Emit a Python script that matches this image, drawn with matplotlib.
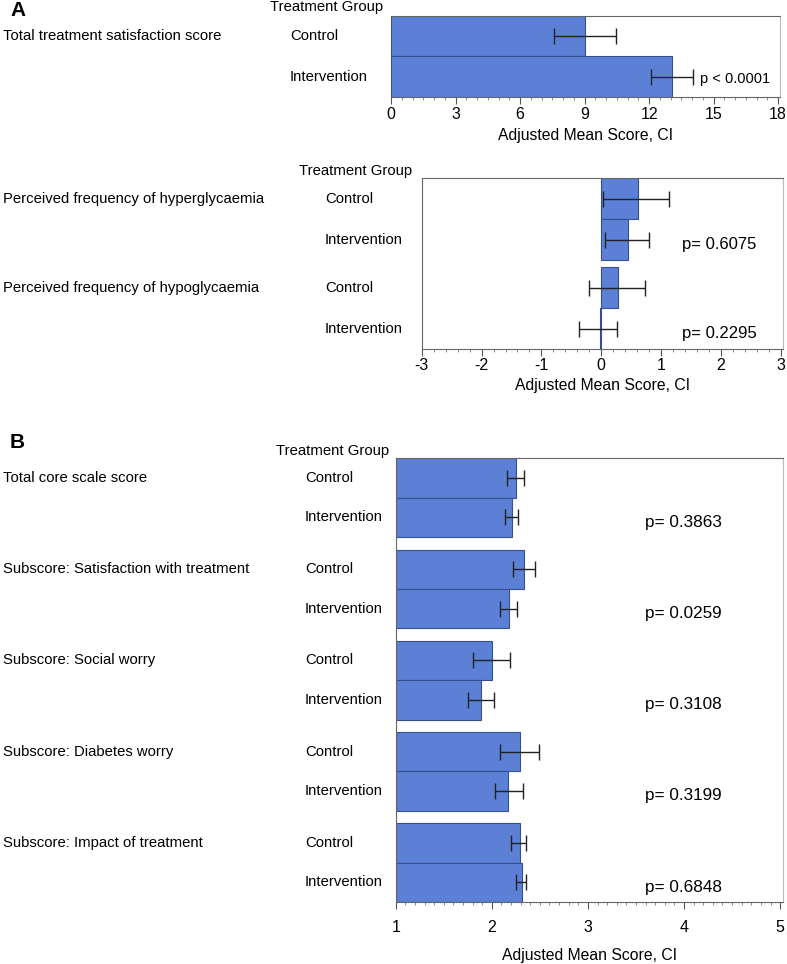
import matplotlib.pyplot as plt
import numpy as np
from matplotlib.ticker import MultipleLocator

plt.rcParams['font.family'] = ['Liberation Sans', 'DejaVu Sans']
plt.rcParams['axes.unicode_minus'] = False

groups = ['Control', 'Intervention']

# Panel A, top
tot_labels = ['Total treatment satisfaction score']
tot_mean = [9.0, 13.06]
tot_lo = [7.58, 12.1]
tot_hi = [10.44, 14.03]
tot_p = ['p < 0.0001']

# Panel A, middle
freq_labels = ['Perceived frequency of hyperglycaemia', 'Perceived frequency of hypoglycaemia']
freq_mean = [0.61, 0.44, 0.28, -0.03]
freq_lo = [0.03, 0.06, -0.20, -0.37]
freq_hi = [1.13, 0.80, 0.73, 0.27]
freq_p = ['p= 0.6075', 'p= 0.2295']

# Panel B
core_labels = ['Total core scale score', 'Subscore: Satisfaction with treatment',
               'Subscore: Social worry', 'Subscore: Diabetes worry',
               'Subscore: Impact of treatment']
core_mean = [2.25, 2.21, 2.335, 2.18, 2.00, 1.885, 2.29, 2.17, 2.29, 2.31]
core_lo = [2.16, 2.14, 2.22, 2.09, 1.80, 1.75, 2.085, 2.03, 2.20, 2.25]
core_hi = [2.34, 2.27, 2.45, 2.26, 2.19, 2.02, 2.49, 2.32, 2.36, 2.36]
core_p = ['p= 0.3863', 'p= 0.0259', 'p= 0.3108', 'p= 0.3199', 'p= 0.6848']

W, H = 787, 964
fig = plt.figure(figsize=(W / 100, H / 100), dpi=100)
bar_col = '#5b80d6'
edge_col = '#34508f'


def px_axes(left, right, top, bottom):
    return fig.add_axes([left / W, 1 - bottom / H, (right - left) / W, (bottom - top) / H])


def draw_panel(ax, mean, lo, hi, gap, base, xlim, major, minor, p_texts, p_x, p_fs, p_dy,
               tpad, lpad):
    n_grp = len(mean) // 2
    pos = []
    for g in range(n_grp):
        pos += [g * (2 + gap), g * (2 + gap) + 1]
    pos = np.array(pos, dtype=float)
    mean = np.array(mean)
    ax.barh(pos, mean - base, left=base, height=1.0, color=bar_col,
            edgecolor=edge_col, linewidth=0.8, zorder=2)
    err = [mean - np.array(lo), np.array(hi) - mean]
    ax.errorbar(mean, pos, xerr=err, fmt='none', ecolor='#222222',
                elinewidth=1.0, capsize=6, capthick=1.0, zorder=3)
    ax.set_ylim(pos[-1] + 0.5, -0.5)
    ax.set_xlim(*xlim)
    ax.set_yticks([])
    ax.xaxis.set_major_locator(MultipleLocator(major))
    ax.xaxis.set_minor_locator(MultipleLocator(minor))
    ax.tick_params(axis='x', which='major', length=5, width=0.8, color='#555555',
                   labelsize=11.5, pad=tpad)
    ax.tick_params(axis='x', which='minor', length=2.5, width=0.6, color='#777777')
    for s in ['top', 'left']:
        ax.spines[s].set_color('#666666')
    ax.spines['right'].set_color('#bbbbbb')
    ax.spines['bottom'].set_color('#666666')
    ax.set_xlabel('Adjusted Mean Score, CI', fontsize=11.3, labelpad=lpad)
    for g in range(n_grp):
        ax.text(p_x, pos[2 * g + 1] + p_dy, p_texts[g], fontsize=p_fs,
                va='center', ha='left', transform=ax.transData)
    return pos


def to_fig_y(ax, y):
    disp = ax.transData.transform((0, y))
    return fig.transFigure.inverted().transform(disp)[1]


# Panel A top
ax1 = px_axes(391, 779.6, 15.5, 97.3)
p1 = draw_panel(ax1, tot_mean, tot_lo, tot_hi, 0.0, 0, (0, 18.07), 3, 0.5,
                tot_p, 14.35, 10.5, 0.05, 1.8, 4.6)
ax1.spines['left'].set_visible(False)

# Panel A middle
ax2 = px_axes(421.7, 782.7, 178.3, 349)
p2 = draw_panel(ax2, freq_mean, freq_lo, freq_hi, 0.17, 0, (-3, 3.03), 1, 0.2,
                freq_p, 1.35, 12, 0.12, 1.2, 3.8)

# Panel B
ax3 = px_axes(395.7, 783, 458.3, 902)
p3 = draw_panel(ax3, core_mean, core_lo, core_hi, 0.315, 1, (1, 5.03), 1, 0.1,
                core_p, 3.59, 12.3, 0.12, 8.3, 8.9)

fs = 10.7
# headers and row labels
fig.text(10 / W, 1 - 1 / H, 'A', fontsize=15, fontweight='bold', va='top')
fig.text(10 / W, 1 - 443 / H, 'B', fontsize=15, fontweight='bold', va='center')

for ax, pos, labels, tg_x, grp_x, tg_y in [
        (ax1, p1, tot_labels, 270, 290, 7),
        (ax2, p2, freq_labels, 299, 325, 171),
        (ax3, p3, core_labels, 276, 305, 451)]:
    fig.text(tg_x / W, 1 - tg_y / H, 'Treatment Group', fontsize=fs, va='center')
    for g, lab in enumerate(labels):
        yc = to_fig_y(ax, pos[2 * g])
        fig.text(3 / W, yc, lab, fontsize=fs, va='center')
        fig.text(grp_x / W, yc, groups[0], fontsize=fs, va='center')
        fig.text(grp_x / W, to_fig_y(ax, pos[2 * g + 1]), groups[1], fontsize=fs, va='center')

fig.savefig('out.png', dpi=100)
